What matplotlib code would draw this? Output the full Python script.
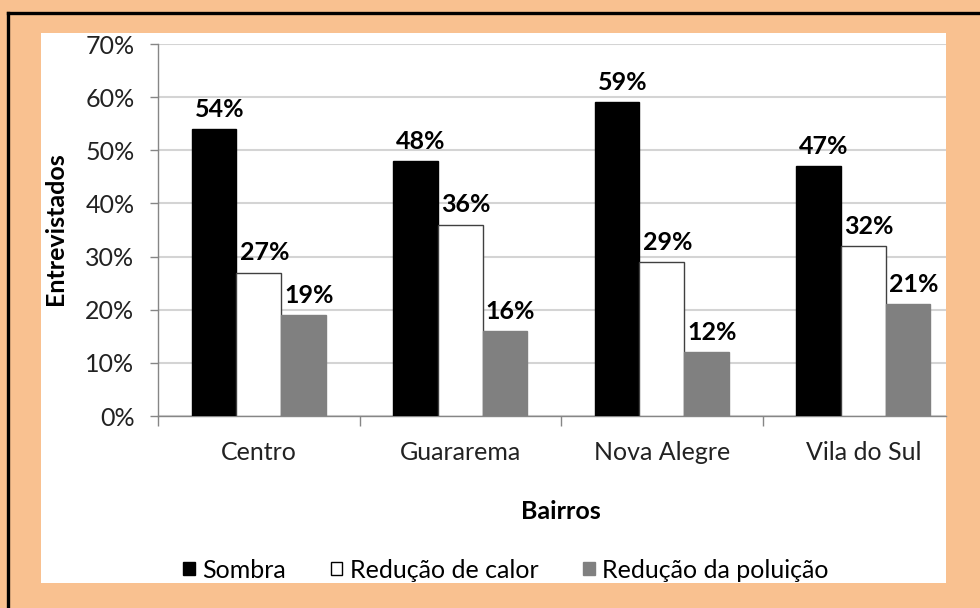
import matplotlib
matplotlib.use("Agg")
import matplotlib.pyplot as plt
import numpy as np
from matplotlib.patches import Rectangle, Patch
from matplotlib.lines import Line2D

plt.rcParams["font.family"] = ["Lato", "DejaVu Sans"]

bairros = ["Centro", "Guararema", "Nova Alegre", "Vila do Sul"]
sombra = [54, 48, 59, 47]
calor = [27, 36, 29, 32]
poluicao = [19, 16, 12, 21]
series_names = ["Sombra", "Redução de calor", "Redução da poluição"]
yticks = [0, 10, 20, 30, 40, 50, 60, 70]

FS = 18
W, H = 980, 608
fig = plt.figure(figsize=(W / 100, H / 100), dpi=100)
fig.patch.set_facecolor("#F9C190")

# white chart area + the black frame (only top and left show)
fig.patches.append(Rectangle((41 / W, 1 - 583 / H), (946 - 41) / W, (583 - 33) / H,
                             transform=fig.transFigure, facecolor="white", edgecolor="none", zorder=-5))
fig.add_artist(Line2D([8 / W, 1], [1 - 13 / H, 1 - 13 / H], transform=fig.transFigure,
                      color="black", lw=2.4))
fig.add_artist(Line2D([8 / W, 8 / W], [0, 1 - 13 / H], transform=fig.transFigure,
                      color="black", lw=2.4))

ax = fig.add_axes([158 / W, 192 / H, 788 / W, 372 / H])
ax.set_facecolor("none")

x = np.arange(len(bairros))
bw = 0.222
colors = ["black", "white", "#808080"]
edges = ["black", "#404040", "#808080"]
for i, (vals, c, ec) in enumerate(zip([sombra, calor, poluicao], colors, edges)):
    pos = x + (i - 1) * bw
    ax.bar(pos, vals, bw, color=c, edgecolor=ec, linewidth=1.0, zorder=3)
    for p, v in zip(pos, vals):
        ax.annotate(f"{v}%", (p, v), xytext=(4, 6), textcoords="offset points",
                    ha="center", va="bottom", fontsize=FS, fontweight="bold", zorder=4)

ax.set_yticks(yticks)
ax.set_yticklabels([f"{t}%" for t in yticks])
ax.set_ylim(0, 70)
ax.yaxis.grid(True, color="#D4D4D4", linewidth=1.5, zorder=0)
ax.set_axisbelow(True)

ax.set_xticks(x)
ax.set_xticklabels(bairros)
ax.set_xticks(np.arange(len(bairros) + 1) - 0.5, minor=True)
# the plot area is cut off on the right, a bit before the last group boundary
ax.set_xlim(-0.5, -0.5 + 788 / 201.5)
ax.tick_params(axis="x", which="major", length=0, pad=18, labelsize=FS, colors="#222222")
ax.tick_params(axis="x", which="minor", length=7.5, width=1, color="#868686")
ax.tick_params(axis="y", length=6, width=1, color="#868686", pad=11, labelsize=FS,
               labelcolor="#222222")

for s in ["top", "right"]:
    ax.spines[s].set_visible(False)
for s in ["left", "bottom"]:
    ax.spines[s].set_color("#868686")
    ax.spines[s].set_linewidth(1.0)

ax.set_xlabel("Bairros", fontsize=FS, fontweight="bold")
ax.xaxis.set_label_coords(0.511, -0.226)
ax.set_ylabel("Entrevistados", fontsize=FS, fontweight="bold")
ax.yaxis.set_label_coords(-0.116, 0.505)

handles = [Patch(facecolor=c, edgecolor=e, linewidth=1.0) for c, e in zip(colors, ["black", "black", "#808080"])]
fig.legend(handles, series_names, loc="center", bbox_to_anchor=(506 / W, 1 - 570 / H),
           ncol=3, frameon=False, fontsize=FS, handlelength=0.45, handleheight=0.45,
           handletextpad=0.3, columnspacing=1.8, borderaxespad=0)

fig.savefig("out.png", dpi=100, facecolor=fig.get_facecolor())
